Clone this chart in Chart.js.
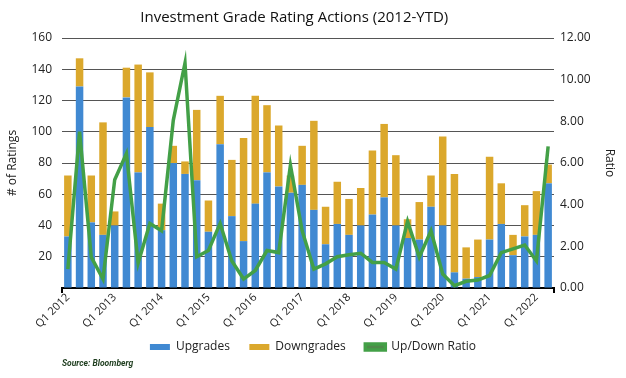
<!DOCTYPE html>
<html lang="en">
<head>
<meta charset="UTF-8">
<title>Investment Grade Rating Actions</title>
<style>
  html, body { margin: 0; padding: 0; background: #fff; }
  #wrap { position: relative; width: 626px; height: 378px; }
</style>
</head>
<body>
<div id="wrap"><canvas id="chart" width="626" height="378"></canvas></div>

<script src="https://cdn.jsdelivr.net/npm/chart.js"></script>
<script>
  // quarters Q1 2012 .. Q2 2022
  const quarters = [];
  for (let y = 2012; y <= 2022; y++) {
    for (let q = 1; q <= 4; q++) {
      if (y === 2022 && q > 2) break;
      quarters.push('Q' + q + ' ' + y);
    }
  }

  const upgrades = [33, 129, 42, 34, 40, 122, 74, 103, 37, 80, 73, 69, 36, 92, 46, 30, 54, 74, 65, 61, 66,
                    50, 28, 41, 34, 40, 47, 58, 40, 32, 31, 52, 40, 10, 6, 7, 31, 41, 21, 33, 34, 67];
  const downgrades = [39, 18, 30, 72, 9, 19, 69, 35, 17, 11, 8, 45, 20, 31, 36, 66, 69, 43, 39, 11, 25,
                      57, 24, 27, 23, 24, 41, 47, 45, 12, 24, 20, 57, 63, 20, 24, 53, 26, 13, 20, 28, 12];
  const upDownRatio = [0.91, 7.5, 1.48, 0.43, 5.2, 6.45, 1.2, 3.1, 2.75, 8.05, 10.8, 1.5, 1.8, 3.1, 1.3, 0.43, 0.84, 1.8, 1.7, 5.9, 2.75,
                       0.91, 1.16, 1.5, 1.6, 1.67, 1.23, 1.23, 0.91, 3.2, 1.48, 2.75, 0.67, 0.11, 0.32, 0.38, 0.6, 1.7, 1.88, 2.06, 1.3, 6.8];

  Chart.defaults.font.family = "'Open Sans', sans-serif";
  Chart.defaults.color = '#222';

  // source note + little end ticks on the x axis, fixed legend height
  const extras = {
    id: 'extras',
    beforeInit(chart) {
      const fit = chart.legend.fit;
      chart.legend.fit = function () {
        fit.call(this);
        this.height = 28;
      };
    },
    afterDraw(chart) {
      const { ctx, chartArea } = chart;
      ctx.save();
      ctx.strokeStyle = '#000';
      ctx.lineWidth = 2;
      ctx.beginPath();
      ctx.moveTo(chartArea.left, chartArea.bottom);
      ctx.lineTo(chartArea.left, chartArea.bottom + 5);
      ctx.moveTo(chartArea.right, chartArea.bottom);
      ctx.lineTo(chartArea.right, chartArea.bottom + 5);
      ctx.stroke();
      ctx.font = "italic bold 8.5px Roboto, sans-serif";
      ctx.fillStyle = '#1e3d1e';
      ctx.textBaseline = 'middle';
      ctx.fillText('Source: Bloomberg', chartArea.left, 364);
      ctx.restore();
    }
  };

  new Chart(document.getElementById('chart'), {
    type: 'bar',
    data: {
      labels: quarters,
      datasets: [
        {
          label: 'Upgrades',
          data: upgrades,
          backgroundColor: '#4089d2',
          borderWidth: 0,
          barPercentage: 0.64,
          categoryPercentage: 1,
          yAxisID: 'y',
          order: 1
        },
        {
          label: 'Downgrades',
          data: downgrades,
          backgroundColor: '#dba82c',
          borderWidth: 0,
          barPercentage: 0.64,
          categoryPercentage: 1,
          yAxisID: 'y',
          order: 1
        },
        {
          type: 'line',
          label: 'Up/Down Ratio',
          data: upDownRatio,
          borderColor: '#43a047',
          backgroundColor: '#4f8a4a',
          borderWidth: 3.5,
          pointRadius: 0,
          tension: 0,
          yAxisID: 'y1',
          order: 0
        }
      ]
    },
    options: {
      responsive: false,
      animation: false,
      layout: { padding: { bottom: 16 } },
      plugins: {
        title: {
          display: true,
          // trailing spaces nudge the centred title a bit to the left, like the original
          text: 'Investment Grade Rating Actions (2012-YTD)\u2003\u2003\u2002',
          font: { size: 15, weight: 'normal' },
          color: '#111',
          padding: { top: 9, bottom: 11 }
        },
        legend: {
          position: 'bottom',
          labels: {
            boxWidth: 20,
            boxHeight: 6,
            padding: 7,
            font: { size: 12 },
            color: '#222',
            sort: (a, b) => a.datasetIndex - b.datasetIndex,
            generateLabels: function (chart) {
              const items = Chart.defaults.plugins.legend.labels.generateLabels(chart);
              items.forEach(it => {
                if (it.datasetIndex !== 2) it.text = it.text + '    ';
              });
              return items;
            }
          }
        },
        tooltip: { enabled: false }
      },
      scales: {
        x: {
          stacked: true,
          grid: { display: false, drawTicks: false },
          border: { display: true, color: '#000', width: 2 },
          ticks: {
            autoSkip: false,
            minRotation: 45,
            maxRotation: 45,
            padding: 3,
            font: { size: 11 },
            callback: function (v, i) {
              return quarters[i].startsWith('Q1') ? quarters[i] : '';
            }
          },
          afterFit: s => { s.height = 46; }
        },
        y: {
          stacked: true,
          position: 'left',
          min: 0,
          max: 160,
          ticks: {
            stepSize: 20,
            padding: 10,
            font: { size: 12 },
            callback: v => (v === 0 ? '' : v)
          },
          grid: { color: '#555', lineWidth: 1, drawTicks: false },
          border: { display: false },
          title: {
            display: true,
            text: '# of Ratings',
            font: { size: 12 },
            padding: { top: 5, bottom: 0 }
          },
          afterFit: s => { s.width = 62; }
        },
        y1: {
          position: 'right',
          min: 0,
          max: 12,
          ticks: {
            stepSize: 2,
            padding: 6,
            font: { size: 12 },
            callback: v => Number(v).toFixed(2)
          },
          grid: { display: false, drawTicks: false },
          border: { display: false },
          title: {
            display: true,
            text: 'Ratio',
            font: { size: 12 },
            padding: { top: 9, bottom: 0 }
          },
          afterFit: s => { s.width = 72; }
        }
      }
    },
    plugins: [extras]
  });
</script>
</body>
</html>
